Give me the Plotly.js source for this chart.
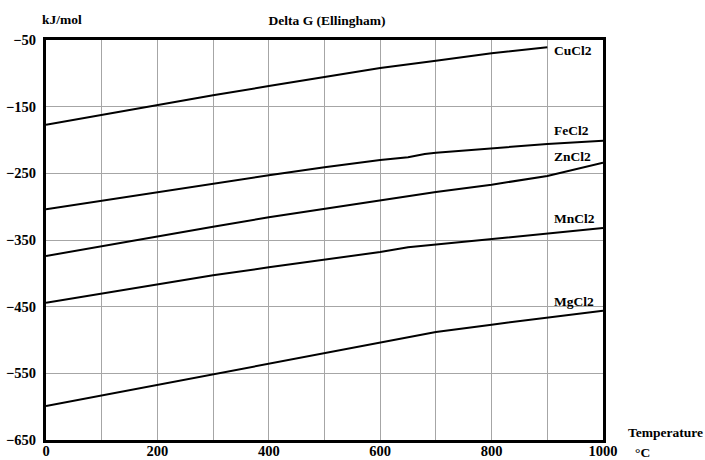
<!DOCTYPE html>
<html>
<head>
<meta charset="utf-8">
<script src="https://cdn.plot.ly/plotly-3.0.1.min.js"></script>
<style>
  html, body { margin: 0; padding: 0; background: #fff; }
  #chart { width: 705px; height: 460px; }
</style>
</head>
<body>
<div id="chart"></div>
<script>
// Gibbs free energy of formation of metal chlorides vs temperature (kJ/mol)
const seriesNames = ['CuCl2', 'FeCl2', 'ZnCl2', 'MnCl2', 'MgCl2'];

const tempCuCl2 = [0, 100, 200, 300, 400, 500, 600, 700, 800, 900];
const dgCuCl2   = [-177, -162, -148, -133, -119, -105, -92, -81, -70, -61];

const tempFeCl2 = [0, 100, 200, 300, 400, 500, 600, 650, 680, 700, 800, 900, 1000];
const dgFeCl2   = [-304, -291, -278, -265, -253, -241, -230, -226, -221, -219, -212, -206, -201];

const tempZnCl2 = [0, 100, 200, 300, 400, 500, 600, 700, 800, 900, 1000];
const dgZnCl2   = [-374, -359, -344, -330, -316, -303, -290, -278, -267, -254, -234];

const tempMnCl2 = [0, 100, 200, 300, 400, 500, 600, 650, 700, 800, 900, 1000];
const dgMnCl2   = [-444, -430, -416, -403, -391, -380, -368, -361, -357, -349, -340, -332];

const tempMgCl2 = [0, 100, 200, 300, 400, 500, 600, 700, 800, 900, 1000];
const dgMgCl2   = [-599, -583, -567, -551, -536, -520, -503, -488, -477, -466, -456];

// label anchor points (data coordinates) for each curve name
const labelTemp = [908, 908, 908, 908, 908];
const labelDG   = [-66, -185, -225, -317, -442];

const xTickVals = [0, 100, 200, 300, 400, 500, 600, 700, 800, 900, 1000];
const xTickText = ['0', '', '200', '', '400', '', '600', '', '800', '', '1000'];
const yTickVals = [-650, -550, -450, -350, -250, -150, -50];

const temps = [tempCuCl2, tempFeCl2, tempZnCl2, tempMnCl2, tempMgCl2];
const dgs   = [dgCuCl2, dgFeCl2, dgZnCl2, dgMnCl2, dgMgCl2];

const traces = seriesNames.map((name, i) => ({
  type: 'scatter',
  mode: 'lines',
  name: name,
  x: temps[i],
  y: dgs[i],
  line: { color: '#000', width: 2 },
  hoverinfo: 'skip'
}));

const serif = 'Liberation Serif, Times New Roman, serif';
const fontBase = { family: serif, size: 13.5, color: '#000', weight: 'bold' };
const fontTick = { family: serif, size: 14.5, color: '#000', weight: 'bold' };

const annotations = seriesNames.map((name, i) => ({
  text: name,
  x: labelTemp[i], y: labelDG[i],
  xref: 'x', yref: 'y',
  xanchor: 'left', yanchor: 'middle',
  showarrow: false,
  font: fontBase
}));

annotations.push(
  { text: 'kJ/mol', xref: 'paper', yref: 'paper', x: 0.028, y: 1.05, xanchor: 'center', yanchor: 'middle', showarrow: false, font: fontBase },
  { text: 'Temperature', xref: 'paper', yref: 'paper', x: 1.042, y: 0.018, xanchor: 'left', yanchor: 'middle', showarrow: false, font: fontBase },
  { text: '°C', xref: 'paper', yref: 'paper', x: 1.054, y: -0.03, xanchor: 'left', yanchor: 'middle', showarrow: false, font: fontBase }
);

const layout = {
  width: 705,
  height: 460,
  margin: { l: 46, r: 102, t: 40, b: 20 },
  paper_bgcolor: '#fff',
  plot_bgcolor: '#fff',
  showlegend: false,
  font: fontBase,
  title: {
    text: 'Delta G (Ellingham)',
    font: fontBase,
    x: 0.464, xanchor: 'center',
    y: 0.956, yanchor: 'middle'
  },
  xaxis: {
    range: [0, 1000],
    tickmode: 'array',
    tickvals: xTickVals,
    ticktext: xTickText,
    ticks: '',
    ticklabelstandoff: -4,
    showgrid: true,
    gridcolor: '#a6a6a6',
    gridwidth: 1,
    zeroline: false,
    showline: true,
    linecolor: '#000',
    linewidth: 3,
    mirror: true,
    tickfont: fontTick,
    fixedrange: true
  },
  yaxis: {
    range: [-650, -50],
    tickmode: 'array',
    tickvals: yTickVals,
    ticks: '',
    ticklabelstandoff: 4,
    showgrid: true,
    gridcolor: '#a6a6a6',
    gridwidth: 1,
    zeroline: false,
    showline: true,
    linecolor: '#000',
    linewidth: 3,
    mirror: true,
    tickfont: fontTick,
    fixedrange: true
  },
  annotations: annotations
};

Plotly.newPlot('chart', traces, layout, { displayModeBar: false, staticPlot: true });
</script>
</body>
</html>
